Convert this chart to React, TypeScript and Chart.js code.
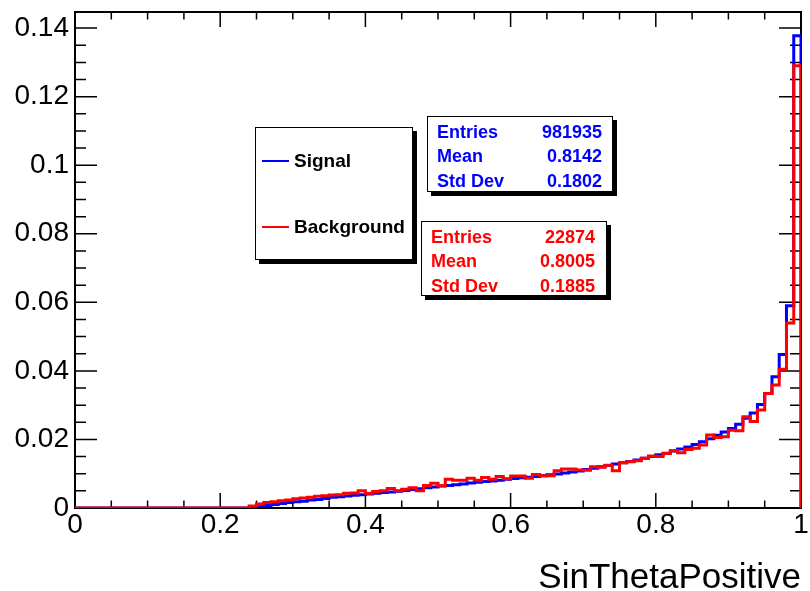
import React, { useEffect, useRef } from "react";
import { Chart, registerables } from "chart.js";

Chart.register(...registerables);

// ---------------- data ----------------
const X_MIN = 0;
const X_MAX = 1;
const Y_MAX = 0.1447;

const zeros24 = [0, 0, 0, 0, 0, 0, 0, 0, 0, 0, 0, 0, 0, 0, 0, 0, 0, 0, 0, 0, 0, 0, 0, 0];

const signalValues = [
  ...zeros24,
  0.0002, 0.0004, 0.0007, 0.001, 0.0013, 0.0016, 0.0018, 0.002, 0.0023, 0.0025,
  0.0028, 0.0031, 0.0033, 0.0035, 0.0037, 0.0039, 0.0041, 0.0043, 0.0045, 0.0047,
  0.0049, 0.0051, 0.0054, 0.0056, 0.0059, 0.0061, 0.0064, 0.0066, 0.0068, 0.007,
  0.0073, 0.0075, 0.0077, 0.0079, 0.0081, 0.0084, 0.0086, 0.0088, 0.009, 0.0092,
  0.0094, 0.0097, 0.0099, 0.0102, 0.0105, 0.0108, 0.0112, 0.0116, 0.012, 0.0124,
  0.0128, 0.0132, 0.0136, 0.014, 0.0145, 0.015, 0.0155, 0.016, 0.0166, 0.0172,
  0.0178, 0.0185, 0.0193, 0.0202, 0.0212, 0.0222, 0.0232, 0.0244, 0.0262, 0.0277,
  0.0302, 0.0334, 0.0383, 0.0448, 0.059, 0.1378,
];

const backgroundValues = [
  ...zeros24,
  0.0006, 0.0012, 0.0016, 0.0018, 0.0021, 0.0023, 0.0027, 0.0029, 0.0031, 0.0034,
  0.0036, 0.0038, 0.0039, 0.0043, 0.0044, 0.005, 0.0043, 0.0048, 0.005, 0.0057,
  0.005, 0.0055, 0.0059, 0.005, 0.0066, 0.0072, 0.0065, 0.0084, 0.0081, 0.0081,
  0.0087, 0.0081, 0.0089, 0.0084, 0.0092, 0.0085, 0.0093, 0.0093, 0.0087, 0.0098,
  0.0094, 0.0094, 0.0109, 0.0114, 0.0114, 0.0111, 0.011, 0.012, 0.0119, 0.0125,
  0.0109, 0.0132, 0.0135, 0.0138, 0.0145, 0.0152, 0.015, 0.0159, 0.0167, 0.0161,
  0.0171, 0.0174, 0.0184, 0.0213, 0.0206, 0.0208, 0.0227, 0.0225, 0.0266, 0.0252,
  0.0286, 0.0334, 0.0359, 0.0405, 0.054, 0.129,
];

const xTickValues = [0, 0.2, 0.4, 0.6, 0.8, 1];
const xTickLabels = ["0", "0.2", "0.4", "0.6", "0.8", "1"];
const yTickValues = [0, 0.02, 0.04, 0.06, 0.08, 0.1, 0.12, 0.14];
const yTickLabels = ["0", "0.02", "0.04", "0.06", "0.08", "0.1", "0.12", "0.14"];
const X_SUBDIV = 4;
const Y_SUBDIV = 4;

const xTitle = "SinThetaPositive";
const seriesNames = ["Signal", "Background"];
const signalStats = [
  ["Entries", "981935"],
  ["Mean", "0.8142"],
  ["Std Dev", "0.1802"],
];
const backgroundStats = [
  ["Entries", "22874"],
  ["Mean", "0.8005"],
  ["Std Dev", "0.1885"],
];

const BLUE = "#0000ff";
const RED = "#ff0000";
const FONT = "'Liberation Sans', Arial, Helvetica, sans-serif";

function histPoints(values: number[]) {
  const w = (X_MAX - X_MIN) / values.length;
  const pts: { x: number; y: number }[] = [{ x: X_MIN, y: 0 }];
  values.forEach((v, i) => pts.push({ x: X_MIN + i * w, y: v }));
  pts.push({ x: X_MAX, y: values[values.length - 1] });
  pts.push({ x: X_MAX, y: 0 });
  return pts;
}

function subTicks(major: number[], n: number, maxV: number) {
  const out: number[] = [];
  const step = (major[1] - major[0]) / n;
  for (let i = 0; i < major.length; i++) {
    for (let k = 1; k < n; k++) {
      const v = major[i] + k * step;
      if (v <= maxV + 1e-9) out.push(v);
    }
  }
  return out;
}

const frameTicksPlugin = {
  id: "frameTicks",
  beforeDatasetsDraw(chart: any) {
    const { ctx, chartArea: a, scales } = chart;
    const xs = scales.x;
    const ys = scales.y;
    ctx.save();
    ctx.strokeStyle = "#000";
    ctx.lineWidth = 2;
    ctx.strokeRect(a.left, a.top, a.right - a.left, a.bottom - a.top);
    ctx.lineWidth = 1.5;
    const xMajLen = 15;
    const yMajLen = 22;
    const drawX = (v: number, len: number) => {
      const px = xs.getPixelForValue(v);
      ctx.beginPath();
      ctx.moveTo(px, a.bottom);
      ctx.lineTo(px, a.bottom - len);
      ctx.moveTo(px, a.top);
      ctx.lineTo(px, a.top + len);
      ctx.stroke();
    };
    const drawY = (v: number, len: number) => {
      const py = ys.getPixelForValue(v);
      ctx.beginPath();
      ctx.moveTo(a.left, py);
      ctx.lineTo(a.left + len, py);
      ctx.moveTo(a.right, py);
      ctx.lineTo(a.right - len, py);
      ctx.stroke();
    };
    xTickValues.forEach((v) => drawX(v, xMajLen));
    subTicks(xTickValues, X_SUBDIV, X_MAX).forEach((v) => drawX(v, xMajLen / 2));
    yTickValues.forEach((v) => drawY(v, yMajLen));
    subTicks(yTickValues, Y_SUBDIV, Y_MAX).forEach((v) => drawY(v, yMajLen / 2));
    ctx.restore();
  },
};

function StatsBox(props: {
  left: number;
  top: number;
  width: number;
  height: number;
  color: string;
  rows: string[][];
  rowTops: number[];
  padL: number;
  padR: number;
}) {
  const { left, top, width, height, color, rows, rowTops, padL, padR } = props;
  return (
    <div
      style={{
        position: "absolute",
        left,
        top,
        width,
        height,
        boxSizing: "border-box",
        border: "1px solid #000",
        background: "#fff",
        boxShadow: "4px 4px 0 #000",
        fontFamily: FONT,
        fontWeight: "bold",
        fontSize: 18,
        color,
      }}
    >
      {rows.map((r, i) => (
        <React.Fragment key={i}>
          <div style={{ position: "absolute", left: padL, top: rowTops[i] - 10, lineHeight: "20px" }}>{r[0]}</div>
          <div style={{ position: "absolute", right: padR, top: rowTops[i] - 10, lineHeight: "20px" }}>{r[1]}</div>
        </React.Fragment>
      ))}
    </div>
  );
}

export default function App() {
  const canvasRef = useRef<HTMLCanvasElement | null>(null);

  useEffect(() => {
    const canvas = canvasRef.current;
    if (!canvas) return;
    const chart = new Chart(canvas, {
      type: "line",
      data: {
        datasets: [
          {
            label: seriesNames[0],
            data: histPoints(signalValues),
            borderColor: BLUE,
            borderWidth: 3,
            pointRadius: 0,
            stepped: true,
            fill: false,
            order: 2,
          },
          {
            label: seriesNames[1],
            data: histPoints(backgroundValues),
            borderColor: RED,
            borderWidth: 3,
            pointRadius: 0,
            stepped: true,
            fill: false,
            order: 1,
          },
        ],
      },
      options: {
        animation: false,
        responsive: false,
        devicePixelRatio: 1,
        parsing: false as any,
        layout: { padding: { left: 0, top: 12, right: 9, bottom: 0 } },
        plugins: { legend: { display: false }, tooltip: { enabled: false } },
        scales: {
          x: {
            type: "linear",
            min: X_MIN,
            max: X_MAX,
            afterBuildTicks: (s: any) => {
              s.ticks = xTickValues.map((v) => ({ value: v }));
            },
            afterFit: (s: any) => {
              s.height = 83;
              s.paddingLeft = 0;
              s.paddingRight = 0;
            },
            ticks: {
              callback: (_v: any, i: number) => xTickLabels[i],
              font: { family: FONT, size: 28 },
              color: "#000",
              padding: 0,
              maxRotation: 0,
              autoSkip: false,
            },
            grid: { display: false, drawTicks: false },
            border: { display: false },
            title: {
              display: true,
              text: xTitle,
              align: "end",
              color: "#000",
              font: { family: FONT, size: 35, lineHeight: 0.75 },
              padding: { top: 0, bottom: 0 },
            },
          },
          y: {
            type: "linear",
            min: 0,
            max: Y_MAX,
            afterBuildTicks: (s: any) => {
              s.ticks = yTickValues.map((v) => ({ value: v }));
            },
            afterFit: (s: any) => {
              s.width = 75;
              s.paddingTop = 0;
              s.paddingBottom = 0;
            },
            ticks: {
              callback: (_v: any, i: number) => yTickLabels[i],
              font: { family: FONT, size: 28 },
              color: "#000",
              padding: 6,
              autoSkip: false,
            },
            grid: { display: false, drawTicks: false },
            border: { display: false },
          },
        },
      } as any,
      plugins: [frameTicksPlugin],
    });
    return () => chart.destroy();
  }, []);

  return (
    <div style={{ position: "absolute", left: 0, top: 0, width: 810, height: 591, background: "#fff" }}>
      <canvas ref={canvasRef} width={810} height={591} style={{ position: "absolute", left: 0, top: 0 }} />
      {/* legend */}
      <div
        style={{
          position: "absolute",
          left: 255,
          top: 127,
          width: 158,
          height: 133,
          boxSizing: "border-box",
          border: "1px solid #000",
          background: "#fff",
          boxShadow: "4px 4px 0 #000",
          fontFamily: FONT,
          fontWeight: "bold",
          fontSize: 19,
          color: "#000",
        }}
      >
        <div style={{ position: "absolute", left: 6, top: 32, width: 27, height: 2, background: BLUE }} />
        <div style={{ position: "absolute", left: 38, top: 23, lineHeight: "20px" }}>{seriesNames[0]}</div>
        <div style={{ position: "absolute", left: 6, top: 98, width: 27, height: 2, background: RED }} />
        <div style={{ position: "absolute", left: 38, top: 89, lineHeight: "20px" }}>{seriesNames[1]}</div>
      </div>
      <StatsBox left={427} top={116} width={186} height={76} color={BLUE} rows={signalStats} rowTops={[15, 39, 64]} padL={9} padR={10} />
      <StatsBox left={421} top={221} width={186} height={75} color={RED} rows={backgroundStats} rowTops={[15, 39, 64]} padL={9} padR={11} />
    </div>
  );
}
